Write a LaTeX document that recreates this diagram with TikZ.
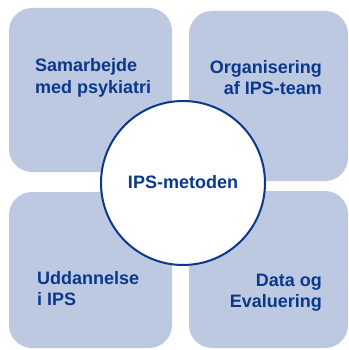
\documentclass[tikz,border=0pt]{standalone}
\usepackage{fontspec}
\setmainfont{Liberation Sans}
\definecolor{boxfill}{RGB}{188,201,225}
\definecolor{ipsblue}{RGB}{10,56,140}
\begin{document}
\begin{tikzpicture}[x=1pt,y=-1pt,
  quad/.style={fill=boxfill,draw=none,rounded corners=23pt},
  lbl/.style={inner sep=0pt,text=ipsblue,font=\fontsize{18}{21}\selectfont\bfseries},
  hub/.style={circle,draw=ipsblue,line width=2pt,fill=white,minimum size=164pt,inner sep=0pt}]
\useasboundingbox (0,0) rectangle (348,350);
\fill[quad] (9,8) rectangle (172,172);
\fill[quad] (189,11) rectangle (348,181);
\fill[quad] (9,192) rectangle (172,348);
\fill[quad] (189,191) rectangle (348,348);
\node[hub] (c) at (183,183) {};
\node[lbl,anchor=base] (m) at (183,188) {IPS-metoden};
\node[lbl,align=left,anchor=base west] (tl) at (35,93) {Samarbejde\\med psykiatri};
\node[lbl,align=right,anchor=base east] (tr) at (322,95) {Organisering\\af IPS-team};
\node[lbl,align=left,anchor=base west] (bl) at (37,305) {Uddannelse\\i IPS};
\node[lbl,align=right,anchor=base east] (br) at (322,307) {Data og\\Evaluering};
\end{tikzpicture}
\end{document}
